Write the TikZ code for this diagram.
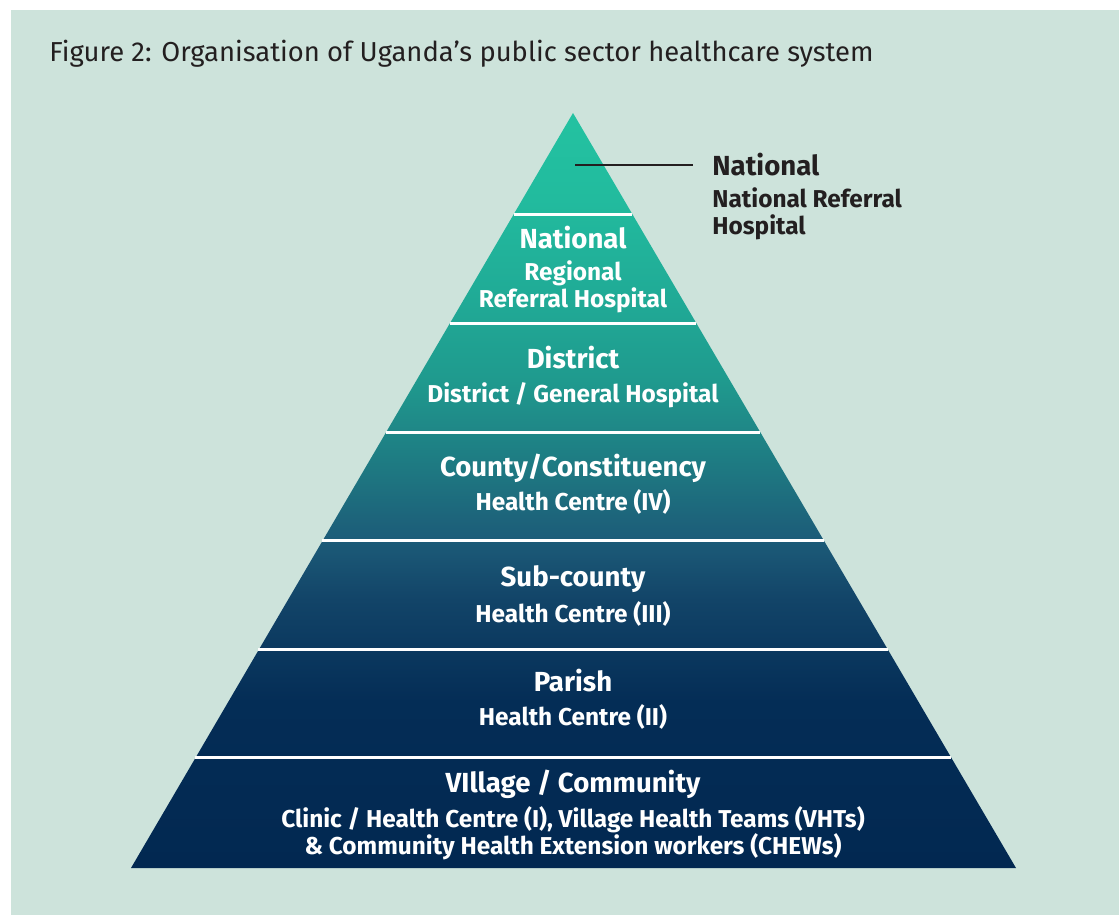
\documentclass[tikz,border=0pt]{standalone}
\usepackage{fontspec}
\setmainfont{Fira Sans}

\definecolor{panel}{HTML}{CDE3DB}
\definecolor{ink}{HTML}{231F20}
\definecolor{navy}{HTML}{022851}
\definecolor{navyB}{HTML}{042D56}
\definecolor{blueC}{HTML}{124468}
\definecolor{blueD}{HTML}{1C5B78}
\definecolor{tealE}{HTML}{1E7480}
\definecolor{tealF}{HTML}{1F9A8E}
\definecolor{tealG}{HTML}{20AA96}
\definecolor{tealH}{HTML}{22BB9E}
\definecolor{tealI}{HTML}{23C2A1}

\pgfdeclareverticalshading{tiers}{100bp}{color(0bp)=(navy); color(25bp)=(navy);
  color(36bp)=(navyB); color(42.75bp)=(blueC); color(46.7bp)=(blueD);
  color(50.7bp)=(tealE); color(57.3bp)=(tealF); color(62.6bp)=(tealG);
  color(69.25bp)=(tealH); color(75bp)=(tealI); color(100bp)=(tealI)}

\begin{document}
\begin{tikzpicture}[
x=0.5pt, y=-0.5pt,
head/.style={font=\fontsize{13.8}{15}\selectfont\bfseries, text=white, inner sep=0pt},
sub/.style={font=\fontsize{12.2}{13.5}\selectfont\bfseries, text=white, align=center, inner sep=0pt},
rule/.style={white, line width=1.5pt} ]

\useasboundingbox[fill=white] (0,0) rectangle (1119,915);
\fill[panel] (11,10) rectangle (1119,915);

\node[anchor=west, text=ink, inner sep=0pt, font=\fontsize{13.7}{15}\selectfont](title) at (49,54) {Figure 2: Organisation of Uganda’s public sector healthcare system};

% pyramid body
\coordinate (apex) at (573,113);
\coordinate (baseL) at (131,868);
\coordinate (baseR) at (1016,868);
\shade[shading=tiers] (apex) -- (baseR) -- (baseL) -- cycle;

% band separators
\foreach \y in {214,323,432,540,649,757}
  \draw[rule] ({573-(\y-113)*0.5868},\y) -- ({573+(\y-113)*0.5868},\y);

% top tier label outside
\coordinate (tip) at (575,165);
\coordinate (lead) at (693,165);
\draw[ink, line width=1.4pt] (tip) -- (lead);
\node[head, text=ink, anchor=west](natTop) at (712,165) {National};
\node[sub, text=ink, anchor=west, align=left](natTopSub) at (712,214) {National Referral\\Hospital};

\node[head](regHead) at (573,238) {National};
\node[sub](regSub) at (573,287) {Regional\\Referral Hospital};

\node[head](distHead) at (573,358) {District};
\node[sub](distSub) at (573,395) {District / General Hospital};

\node[head](cntyHead) at (573,468) {County/Constituency};
\node[sub](cntySub) at (573,502) {Health Centre (IV)};

\node[head](subcHead) at (573,579) {Sub-county};
\node[sub](subcSub) at (573,614) {Health Centre (III)};

\node[head](parHead) at (573,681) {Parish};
\node[sub](parSub) at (573,717) {Health Centre (II)};

\node[head](vilHead) at (573,784) {VIllage / Community};
\node[sub](vilSub) at (573,833) {Clinic / Health Centre (I), Village Health Teams (VHTs)\\\& Community Health Extension workers (CHEWs)};
\end{tikzpicture}
\end{document}
